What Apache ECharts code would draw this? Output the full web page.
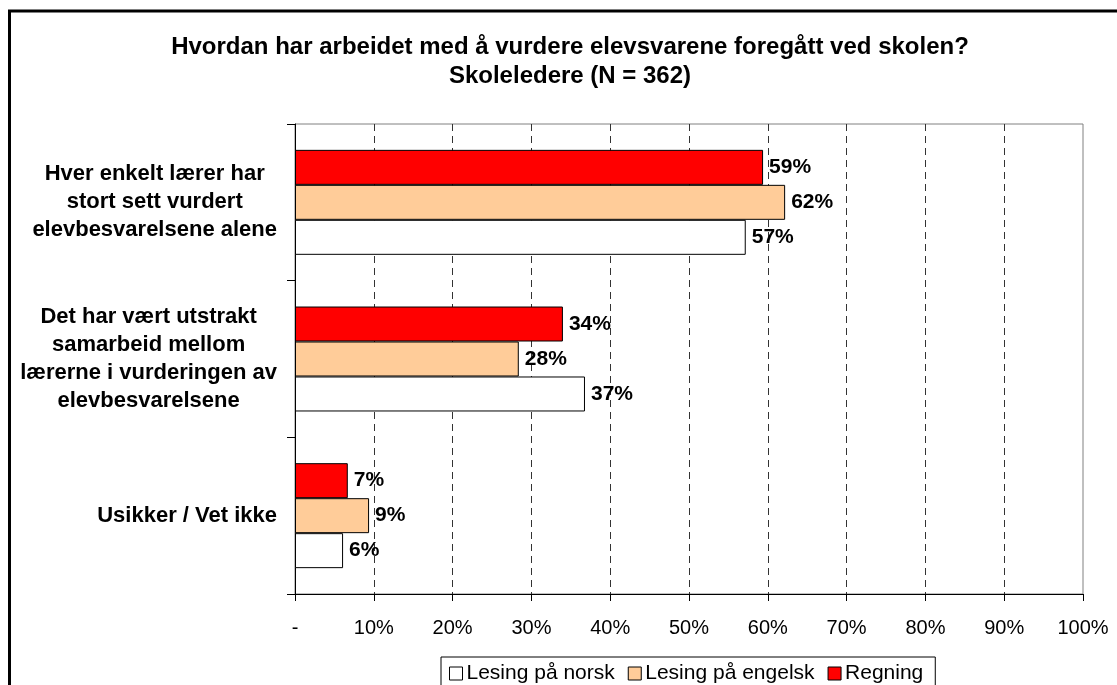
<!DOCTYPE html>
<html>
<head>
<meta charset="utf-8">
<script src="https://cdn.jsdelivr.net/npm/echarts@6/dist/echarts.min.js"></script>
<style>
  html, body { margin: 0; padding: 0; background: #ffffff; }
  #chart { width: 1117px; height: 685px; }
</style>
</head>
<body>
<div id="chart"></div>
<script>
// ---- Data ----
const categories = [
  "Hver enkelt lærer har\nstort sett vurdert\nelevbesvarelsene alene",
  "Det har vært utstrakt\nsamarbeid mellom\nlærerne i vurderingen av\nelevbesvarelsene",
  "Usikker / Vet ikke"
];
const seriesNames = ["Lesing på norsk", "Lesing på engelsk", "Regning"];
const norsk   = [57.2, 36.8, 6.1];
const engelsk = [62.2, 28.4, 9.4];
const regning = [59.4, 34.0, 6.7];
const xTicks = [0, 10, 20, 30, 40, 50, 60, 70, 80, 90, 100];
const titleLines = [
  "Hvordan har arbeidet med å vurdere elevsvarene foregått ved skolen?",
  "Skoleledere (N = 362)"
];

const FONT = "'Liberation Sans', Arial, sans-serif";

const chart = echarts.init(document.getElementById('chart'), null, { renderer: 'canvas' });

const labelCfg = {
  show: true,
  position: 'right',
  distance: 6,
  color: '#000',
  fontFamily: FONT,
  fontWeight: 'bold',
  fontSize: 21,
  formatter: p => Math.round(p.value) + '%'
};

function barSeries(name, data, color) {
  return {
    name: name,
    type: 'bar',
    data: data,
    barGap: '0%',
    barCategoryGap: '33%',
    itemStyle: { color: color, borderColor: '#000', borderWidth: 1 },
    label: labelCfg,
    emphasis: { disabled: true },
    animation: false
  };
}

const option = {
  animation: false,
  backgroundColor: '#ffffff',
  textStyle: { fontFamily: FONT, color: '#000' },
  title: {
    text: titleLines.join('\n'),
    left: 570,
    top: 33,
    padding: 0,
    textAlign: 'center',
    textStyle: {
      fontFamily: FONT,
      fontWeight: 'bold',
      fontSize: 24,
      lineHeight: 29,
      color: '#000'
    }
  },
  graphic: [{
    type: 'rect',
    shape: { x: 9.5, y: 11, width: 1300, height: 900 },
    style: { fill: 'none', stroke: '#000', lineWidth: 3 },
    silent: true,
    z: 100
  }],
  legend: {
    data: seriesNames,
    left: 441,
    top: 657,
    orient: 'horizontal',
    padding: [6, 12, 6, 8],
    borderColor: '#000',
    borderWidth: 1,
    itemWidth: 13,
    itemHeight: 13,
    itemGap: 13,
    icon: 'rect',
    selectedMode: false,
    itemStyle: { borderColor: '#000', borderWidth: 1 },
    textStyle: { fontFamily: FONT, fontSize: 21, color: '#000', padding: [0, 0, 0, -1] }
  },
  grid: {
    left: 295,
    right: 34,
    top: 124,
    bottom: 91,
    show: true,
    borderColor: '#808080',
    borderWidth: 1,
    backgroundColor: '#ffffff',
    containLabel: false
  },
  xAxis: {
    type: 'value',
    min: xTicks[0],
    max: xTicks[xTicks.length - 1],
    interval: xTicks[1] - xTicks[0],
    axisLine: { show: true, lineStyle: { color: '#000', width: 1 } },
    axisTick: { show: true, length: 7, lineStyle: { color: '#000' } },
    axisLabel: {
      margin: 24,
      color: '#000',
      fontFamily: FONT,
      fontSize: 20,
      formatter: v => (v === 0 ? '-' : v + '%')
    },
    splitLine: {
      show: true,
      showMinLine: false,
      showMaxLine: false,
      lineStyle: { color: '#333', width: 1, type: [7, 5] }
    }
  },
  yAxis: {
    type: 'category',
    data: categories,
    inverse: true,
    axisLine: { show: true, lineStyle: { color: '#000', width: 1 } },
    axisTick: { show: true, length: 8, lineStyle: { color: '#000' } },
    splitLine: { show: false },
    axisLabel: {
      margin: 18,
      interval: 0,
      align: 'right',
      formatter: v => v.split('\n').map(l => '{c|' + l + '}').join('\n'),
      rich: {
        c: {
          align: 'center',
          fontFamily: FONT,
          fontWeight: 'bold',
          fontSize: 22,
          lineHeight: 28,
          color: '#000'
        }
      }
    }
  },
  series: [
    barSeries(seriesNames[2], regning, '#ff0000'),
    barSeries(seriesNames[1], engelsk, '#ffcc99'),
    barSeries(seriesNames[0], norsk, '#ffffff')
  ]
};

chart.setOption(option);
</script>
</body>
</html>
